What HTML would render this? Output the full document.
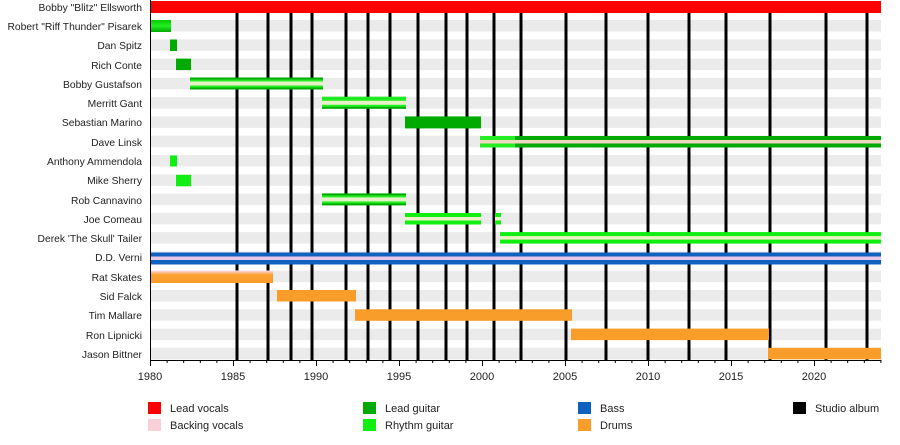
<!DOCTYPE html>
<html><head><meta charset="utf-8"><style>
body{margin:0;background:#fff;width:900px;height:440px;overflow:hidden}
text{font-family:"Liberation Sans",sans-serif;font-size:11px;fill:#222}
.lab text{font-size:10.3px}
</style></head><body>
<svg width="900" height="440" xmlns="http://www.w3.org/2000/svg">
<defs>
<linearGradient id="pg" x1="0" y1="0" x2="0" y2="1"><stop offset="0" stop-color="#0c0"/><stop offset="0.5" stop-color="#2e2"/><stop offset="1" stop-color="#0a0"/></linearGradient>
<linearGradient id="og" x1="0" y1="0" x2="0" y2="1"><stop offset="0" stop-color="#fde"/><stop offset="0.35" stop-color="#f9a030"/><stop offset="1" stop-color="#f99d2a"/></linearGradient>
</defs>
<g id="bands" fill="#ebebeb">
<rect x="150" y="20" width="731" height="11.5"/>
<rect x="150" y="39.3" width="731" height="11.5"/>
<rect x="150" y="58.6" width="731" height="11.5"/>
<rect x="150" y="77.8" width="731" height="11.5"/>
<rect x="150" y="97.1" width="731" height="11.5"/>
<rect x="150" y="116.4" width="731" height="11.5"/>
<rect x="150" y="135.7" width="731" height="11.5"/>
<rect x="150" y="155" width="731" height="11.5"/>
<rect x="150" y="174.3" width="731" height="11.5"/>
<rect x="150" y="193.6" width="731" height="11.5"/>
<rect x="150" y="212.8" width="731" height="11.5"/>
<rect x="150" y="232.1" width="731" height="11.5"/>
<rect x="150" y="251.4" width="731" height="11.5"/>
<rect x="150" y="270.7" width="731" height="11.5"/>
<rect x="150" y="290" width="731" height="11.5"/>
<rect x="150" y="309.3" width="731" height="11.5"/>
<rect x="150" y="328.6" width="731" height="11.5"/>
<rect x="150" y="347.8" width="731" height="11.5"/>
</g>
<g stroke="#000" stroke-width="3">
<line x1="237" y1="13" x2="237" y2="360"/><line x1="268" y1="13" x2="268" y2="360"/><line x1="291" y1="13" x2="291" y2="360"/><line x1="312" y1="13" x2="312" y2="360"/><line x1="346" y1="13" x2="346" y2="360"/><line x1="368" y1="13" x2="368" y2="360"/><line x1="390" y1="13" x2="390" y2="360"/><line x1="418" y1="13" x2="418" y2="360"/><line x1="446" y1="13" x2="446" y2="360"/><line x1="467" y1="13" x2="467" y2="360"/><line x1="494" y1="13" x2="494" y2="360"/><line x1="521" y1="13" x2="521" y2="360"/><line x1="566" y1="13" x2="566" y2="360"/><line x1="606" y1="13" x2="606" y2="360"/><line x1="648" y1="13" x2="648" y2="360"/><line x1="689" y1="13" x2="689" y2="360"/><line x1="726" y1="13" x2="726" y2="360"/><line x1="770" y1="13" x2="770" y2="360"/><line x1="826" y1="13" x2="826" y2="360"/><line x1="867" y1="13" x2="867" y2="360"/>
</g>
<rect x="150" y="1" width="731" height="12" fill="#f00"/>
<rect x="150" y="20" width="21" height="12" fill="url(#pg)"/>
<rect x="170" y="39.5" width="7" height="11.5" fill="#0a0"/>
<rect x="176" y="58.6" width="15" height="11.5" fill="#0a0"/>
<g><rect x="190" y="77.5" width="133" height="12" fill="#0a0"/><rect x="190" y="79.5" width="133" height="8" fill="#2e2"/><rect x="190" y="81.5" width="133" height="4" fill="#e8f0c8"/></g>
<g><rect x="322" y="96.8" width="84" height="12" fill="#0a0"/><rect x="322" y="96.8" width="84" height="2" fill="#2e2"/><rect x="322" y="98.8" width="84" height="8" fill="#2e2"/><rect x="322" y="100.8" width="84" height="4" fill="#e8f0c8"/></g>
<rect x="405" y="116.4" width="76" height="12" fill="#0a0"/>
<g><rect x="480" y="136" width="401" height="11.5" fill="#0a0"/><rect x="480" y="136" width="35" height="11.5" fill="#2e2"/><rect x="480" y="140" width="401" height="3.5" fill="#f0d8c0"/></g>
<rect x="170" y="155.5" width="7" height="11" fill="#1e1"/>
<rect x="176" y="174.8" width="15" height="11.5" fill="#1e1"/>
<g><rect x="322" y="193.4" width="84" height="12" fill="#0a0"/><rect x="322" y="195.4" width="84" height="8" fill="#2e2"/><rect x="322" y="197.4" width="84" height="4" fill="#e8f0c8"/></g>
<g fill="#1e1"><rect x="405" y="213" width="76" height="11.5"/><rect x="495" y="213" width="6" height="11.5"/></g>
<g fill="#eef0c8"><rect x="405" y="217" width="76" height="3.5"/><rect x="495" y="217" width="6" height="3.5"/></g>
<rect x="500" y="232.1" width="381" height="11.5" fill="#1e1"/><rect x="500" y="236.1" width="381" height="3.5" fill="#eef0c8"/>
<rect x="150" y="252.5" width="731" height="12" fill="#1060c0"/><rect x="150" y="256.5" width="731" height="3.5" fill="#e8c8e8"/>
<rect x="150" y="270.5" width="123" height="12.5" fill="url(#og)"/>
<rect x="277" y="290" width="79" height="11.5" fill="#f99d2a"/>
<rect x="355" y="309.3" width="217" height="11.5" fill="#f99d2a"/>
<rect x="571" y="328.6" width="198" height="11.5" fill="#f99d2a"/>
<rect x="768" y="347.8" width="113" height="11.5" fill="#f99d2a"/>
<line x1="150.5" y1="0" x2="150.5" y2="361" stroke="#000" stroke-width="1"/>
<line x1="150" y1="360.5" x2="881" y2="360.5" stroke="#000" stroke-width="1"/>
<g stroke="#000" stroke-width="1" id="ticks"></g>
<g text-anchor="middle">
<text x="150" y="380">1980</text><text x="233" y="380">1985</text><text x="316" y="380">1990</text><text x="399" y="380">1995</text><text x="482" y="380">2000</text><text x="565" y="380">2005</text><text x="648" y="380">2010</text><text x="731" y="380">2015</text><text x="814" y="380">2020</text>
</g>
<g text-anchor="end" class="lab">
<text x="142" y="11">Bobby "Blitz" Ellsworth</text>
<text x="142" y="30">Robert "Riff Thunder" Pisarek</text>
<text x="142" y="49">Dan Spitz</text>
<text x="142" y="69">Rich Conte</text>
<text x="142" y="88">Bobby Gustafson</text>
<text x="142" y="107">Merritt Gant</text>
<text x="142" y="126">Sebastian Marino</text>
<text x="142" y="146">Dave Linsk</text>
<text x="142" y="165">Anthony Ammendola</text>
<text x="142" y="184">Mike Sherry</text>
<text x="142" y="204">Rob Cannavino</text>
<text x="142" y="223">Joe Comeau</text>
<text x="142" y="242">Derek 'The Skull' Tailer</text>
<text x="142" y="261">D.D. Verni</text>
<text x="142" y="281">Rat Skates</text>
<text x="142" y="300">Sid Falck</text>
<text x="142" y="319">Tim Mallare</text>
<text x="142" y="339">Ron Lipnicki</text>
<text x="142" y="358">Jason Bittner</text>
</g>
<rect x="148" y="402" width="13" height="12" fill="#f00"/><text x="170" y="412">Lead vocals</text>
<rect x="148" y="419" width="13" height="12" fill="#f8d0d8"/><text x="170" y="429">Backing vocals</text>
<rect x="363" y="402" width="13" height="12" fill="#0a0"/><text x="385" y="412">Lead guitar</text>
<rect x="363" y="419" width="13" height="12" fill="#1e1"/><text x="385" y="429">Rhythm guitar</text>
<rect x="578" y="402" width="13" height="12" fill="#1060c0"/><text x="600" y="412">Bass</text>
<rect x="578" y="419" width="13" height="12" fill="#f99d2a"/><text x="600" y="429">Drums</text>
<rect x="793" y="402" width="13" height="12" fill="#000"/><text x="815" y="412">Studio album</text>
</svg>
<script>
var g=document.getElementById('ticks'),s='';
for(var y=1980;y<=2024;y++){var x=150+16.6*(y-1980)+0.5;var len=(y%5==0)?6:3;s+='<line x1="'+x+'" y1="360" x2="'+x+'" y2="'+(360+len)+'"/>';}
g.innerHTML=s;
</script>
</body></html>
